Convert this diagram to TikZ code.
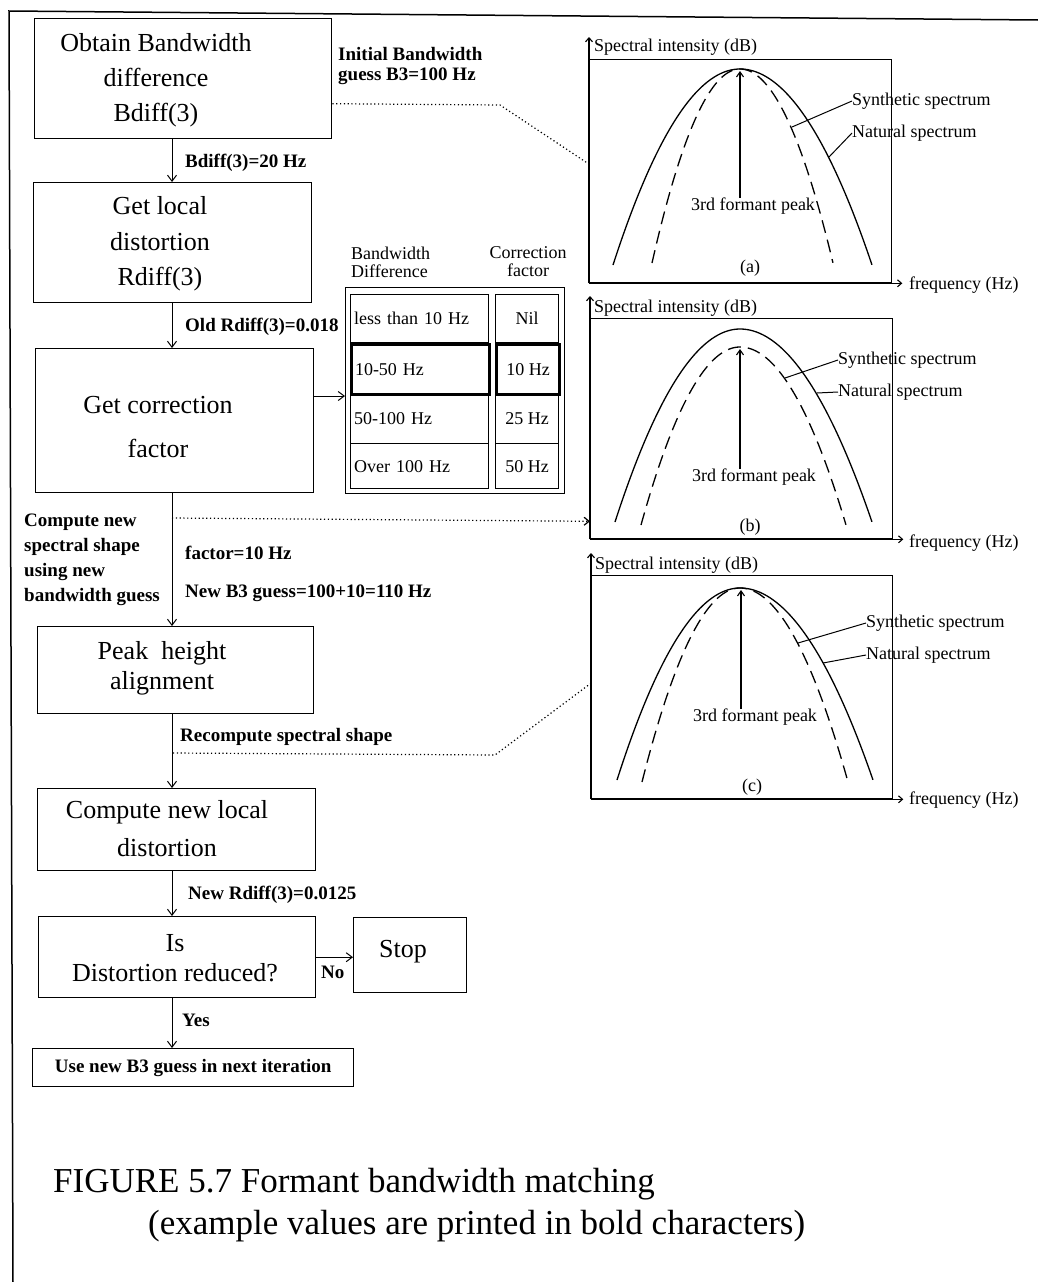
\documentclass[tikz,border=0pt]{standalone}
\usepackage{fontspec}
\setmainfont{Liberation Serif}
\usetikzlibrary{arrows.meta,calc}
% one spectrum curve: style, centre x, top y, foot y, left half-width, right half-width
\newcommand\specplot[6]{%
  \draw[#1] plot[domain=-1:1,samples=81,smooth]
    ({#2+((\x<0)?(#5):(#6))*\x},{#3+(#4-#3)*\x*\x});}
\begin{document}
\begin{tikzpicture}[x=1pt,y=-1pt,
  box/.style={draw,line width=1.4pt,anchor=north west,inner sep=0pt},
  boxtext/.style={font=\fontsize{26}{#1}\selectfont,align=center,inner sep=0pt},
  boxtext/.default=35,
  lbl/.style={font=\fontsize{19}{20}\selectfont\bfseries,anchor=west,inner sep=0pt,align=left},
  flow/.style={line width=1pt,-{Straight Barb[length=6pt,width=9pt]}},
  dotline/.style={line width=1.2pt,dash pattern=on 1.2pt off 2.6pt},
  cell/.style={draw,line width=1.2pt,anchor=north west,inner ysep=0pt,
    font=\fontsize{18}{18}\selectfont},
  cellL/.style={cell,text width=131pt,inner xsep=3.5pt,align=left,minimum height=#1},
  cellR/.style={cell,minimum width=63pt,inner xsep=0pt,minimum height=#1},
  thick cell/.style={line width=3pt},
  small/.style={font=\fontsize{18}{18}\selectfont,inner sep=0pt},
  pbox/.style={draw,line width=1.3pt,anchor=north west,inner sep=0pt},
  axis/.style={line width=1.1pt,-{Straight Barb[length=4pt,width=7pt]}},
  natural/.style={line width=1.3pt},
  synthetic/.style={line width=1.3pt,dash pattern=on 13pt off 7pt},
  peakarrow/.style={line width=1.1pt,-{Straight Barb[length=5pt,width=7pt]}},
  leader/.style={line width=1pt}
]
\useasboundingbox (0,0) rectangle (1038,1282);
\fill[white] (0,0) rectangle (1038,1282);

% page frame
\draw[line width=1.5pt] (1038,20) -- (9,11) -- (13,1282);

% ---------------- flow chart ----------------
\coordinate (spine) at (172,0);

\node[box,minimum width=297pt,minimum height=120pt] (b1) at (34,18) {};
\node[boxtext] (b1t) at (156,80) {Obtain Bandwidth\\difference\\Bdiff(3)};

\node[box,minimum width=278pt,minimum height=120pt] (b2) at (33,182) {};
\node[boxtext=35.5] (b2t) at (160,244) {Get local\\distortion\\Rdiff(3)};

\node[box,minimum width=278pt,minimum height=144pt] (b3) at (35,348) {};
\node[boxtext=44] (b3t) at (158,427) {Get correction\\factor};

\node[box,minimum width=276pt,minimum height=87pt] (b4) at (37,626) {};
\node[boxtext=30] (b4t) at (162,668) {Peak~ height\\alignment};

\node[box,minimum width=278pt,minimum height=82pt] (b5) at (37,788) {};
\node[boxtext=38] (b5t) at (167,829) {Compute new local\\distortion};

\node[box,minimum width=277pt,minimum height=81pt] (b6) at (38,916) {};
\node[boxtext=30] (b6t) at (175,958) {Is\\Distortion reduced?};

\node[box,minimum width=113pt,minimum height=75pt] (stop) at (353,917) {};
\node[boxtext] (stopt) at (403,952) {Stop};

\node[box,minimum width=321pt,minimum height=38pt,
      font=\fontsize{19}{20}\selectfont\bfseries] (b7) at (32,1048)
      {Use new B3 guess in next iteration};

\draw[flow] (spine |- b1.south) -- (spine |- b2.north);
\draw[flow] (spine |- b2.south) -- (spine |- b3.north);
\draw[flow] (spine |- b3.south) -- (spine |- b4.north);
\draw[flow] (spine |- b4.south) -- (spine |- b5.north);
\draw[flow] (spine |- b5.south) -- (spine |- b6.north);
\draw[flow] (spine |- b6.south) -- (spine |- b7.north);
\draw[flow] (b6.east) -- (stop.west |- b6.east);

% example values
\node[lbl] (l0) at (338,66.5) {Initial Bandwidth\\guess B3=100 Hz};
\node[lbl] (l1) at (185,163) {Bdiff(3)=20 Hz};
\node[lbl] (l2) at (185,327) {Old Rdiff(3)=0.018};
\node[lbl,font=\fontsize{19}{25}\selectfont\bfseries] (l3) at (24,559.5)
  {Compute new\\spectral shape\\using new\\bandwidth guess};
\node[lbl] (l4) at (185,553) {factor=10 Hz};
\node[lbl] (l5) at (185,593) {New B3 guess=100+10=110 Hz};
\node[lbl] (l6) at (180,737) {Recompute spectral shape};
\node[lbl] (l7) at (188,895) {New Rdiff(3)=0.0125};
\node[lbl] (l8) at (321,972) {No};
\node[lbl] (l9) at (182,1020) {Yes};

% ---------------- correction table ----------------
\node[small,align=left,anchor=west] (h1) at (351,262) {Bandwidth\\Difference};
\node[small,align=center] (h2) at (528,262) {Correction\\factor};

\node[draw,line width=1.2pt,anchor=north west,inner sep=0pt,
      minimum width=219pt,minimum height=206pt] (tbl) at (345,287) {};
\node[cellL=48pt] (r1a) at (350,294) {less than 10 Hz};
\node[cellR=48pt] (r1b) at (495,294) {Nil};
\node[cellL=50pt] (r3a) at (350,393) {50-100 Hz};
\node[cellR=50pt] (r3b) at (495,393) {25 Hz};
\node[cellL=45pt] (r4a) at (350,443) {Over 100 Hz};
\node[cellR=45pt] (r4b) at (495,443) {50 Hz};
\node[cellL=50pt,thick cell] (r2a) at (350,343) {10-50 Hz};
\node[cellR=50pt,thick cell] (r2b) at (495,343) {10 Hz};

\draw[flow] (b3.east |- r2a.south) -- (tbl.west |- r2a.south);

% ---------------- spectra ----------------
% (a)
\node[pbox,minimum width=302pt,minimum height=223pt] (pa) at (589,59) {};
\draw[axis] (pa.south west) -- ([yshift=22pt]pa.north west);
\draw[axis] (pa.south west) -- ([xshift=10pt]pa.south east);
\node[small,anchor=west] (pay) at (594,47) {Spectral intensity (dB)};
\node[small,anchor=west] (pax) at (909,285) {frequency (Hz)};
\specplot{natural}{740}{69}{265}{127}{132}
\specplot{synthetic}{740}{69}{263}{88}{93}
\coordinate (apa) at (740,71);
\node[small] (pka) at (753,206) {3rd formant peak};
\draw[peakarrow] (pka.north -| apa) -- (apa);
\node[small] (capa) at (750,268) {(a)};
\node[small,anchor=west] (syna) at (852,101) {Synthetic spectrum};
\node[small,anchor=west] (nata) at (852,133) {Natural spectrum};
\coordinate (sa) at (792,127);
\coordinate (na) at (829,157);
\draw[leader] (sa) -- (syna.west);
\draw[leader] (na) -- (nata.west);

% (b)
\node[pbox,minimum width=302pt,minimum height=220pt] (pb) at (590,318) {};
\draw[axis] (pb.south west) -- ([yshift=22pt]pb.north west);
\draw[axis] (pb.south west) -- ([xshift=10pt]pb.south east);
\node[small,anchor=west] (pby) at (594,308) {Spectral intensity (dB)};
\node[small,anchor=west] (pbx) at (909,543) {frequency (Hz)};
\specplot{natural}{740}{329}{522}{125}{132}
\specplot{synthetic}{740}{347}{525}{99}{106}
\coordinate (apb) at (740,349);
\node[small] (pkb) at (754,477) {3rd formant peak};
\draw[peakarrow] (pkb.north -| apb) -- (apb);
\node[small] (capb) at (750,527) {(b)};
\node[small,anchor=west] (synb) at (838,360) {Synthetic spectrum};
\node[small,anchor=west] (natb) at (838,392) {Natural spectrum};
\coordinate (sb) at (785,378);
\coordinate (nb) at (817,393);
\draw[leader] (sb) -- (synb.west);
\draw[leader] (nb) -- (natb.west);

% (c)
\node[pbox,minimum width=301pt,minimum height=223pt] (pc) at (591,575) {};
\draw[axis] (pc.south west) -- ([yshift=22pt]pc.north west);
\draw[axis] (pc.south west) -- ([xshift=10pt]pc.south east);
\node[small,anchor=west] (pcy) at (595,565) {Spectral intensity (dB)};
\node[small,anchor=west] (pcx) at (909,800) {frequency (Hz)};
\specplot{natural}{740}{588}{780}{123}{133}
\specplot{synthetic}{740}{588}{782}{98}{108}
\coordinate (apc) at (741,590);
\node[small] (pkc) at (755,717) {3rd formant peak};
\draw[peakarrow] (pkc.north -| apc) -- (apc);
\node[small] (capc) at (752,787) {(c)};
\node[small,anchor=west] (sync) at (866,623) {Synthetic spectrum};
\node[small,anchor=west] (natc) at (866,655) {Natural spectrum};
\coordinate (sc) at (798,643);
\coordinate (nc) at (823,663);
\draw[leader] (sc) -- (sync.west);
\draw[leader] (nc) -- (natc.west);

% ---------------- dotted links to the spectra ----------------
\coordinate (k1) at (500,105);
\draw[dotline] ([yshift=-25pt]b1.east) -- (k1) -- ([yshift=7pt]pa.west);
\coordinate (d2) at (172,518);
\draw[dotline,-{Straight Barb[length=5pt,width=8pt]}] (d2) -- ([yshift=18pt]pb.south west);
\coordinate (d3) at (173,753);
\coordinate (k3) at (495,755);
\draw[dotline] (d3) -- (k3) -- ([yshift=4pt]pc.west);

% ---------------- caption ----------------
\node[font=\fontsize{35}{42}\selectfont,anchor=base west,inner sep=0pt] (cap1) at (53,1192)
  {FIGURE 5.7 Formant bandwidth matching};
\node[font=\fontsize{35}{42}\selectfont,anchor=base west,inner sep=0pt] (cap2) at (148,1234)
  {(example values are printed in bold characters)};
\end{tikzpicture}
\end{document}
